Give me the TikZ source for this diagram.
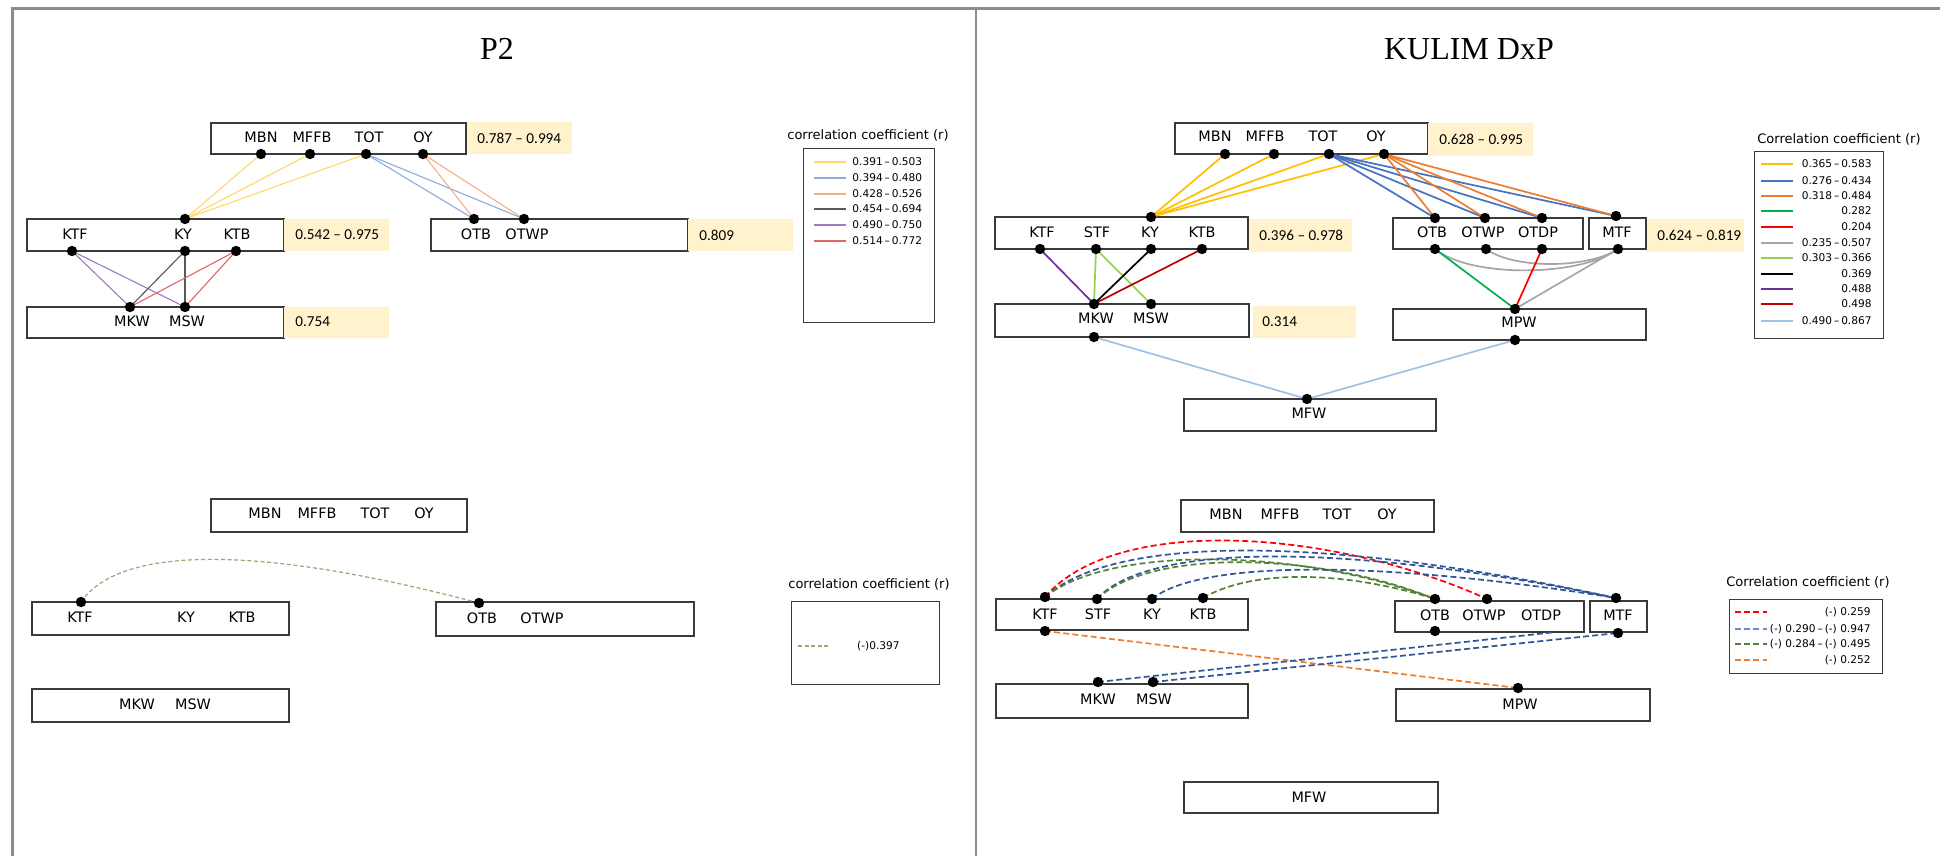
\documentclass[tikz,border=0pt]{standalone}
\usepackage{fontspec}
\setmainfont{DejaVu Sans}
\newfontfamily\calfont{Carlito}
\newfontfamily\serfont{Liberation Serif}
\definecolor{hlyel}{HTML}{FFF2CC}
\definecolor{frame}{HTML}{8C8C8C}
\definecolor{boxc}{HTML}{3A3A3A}
% P2 colours
\definecolor{pyel}{HTML}{FFD966}
\definecolor{pblu}{HTML}{8FAADC}
\definecolor{pora}{HTML}{F4B183}
\definecolor{pgry}{HTML}{595959}
\definecolor{ppur}{HTML}{9E7CC1}
\definecolor{pred}{HTML}{E06666}
\definecolor{pgrn}{HTML}{93AC74}
% KULIM colours
\definecolor{kyel}{HTML}{FFC000}
\definecolor{kblu}{HTML}{4472C4}
\definecolor{kora}{HTML}{ED7D31}
\definecolor{kgrn}{HTML}{00B050}
\definecolor{kred}{HTML}{FF0000}
\definecolor{kgry}{HTML}{A6A6A6}
\definecolor{klgr}{HTML}{92D050}
\definecolor{kblk}{HTML}{000000}
\definecolor{kpur}{HTML}{7030A0}
\definecolor{kdrd}{HTML}{C00000}
\definecolor{klbl}{HTML}{9DC3E6}
\definecolor{dblu}{HTML}{2F5597}
\definecolor{dgrn}{HTML}{548235}
\newcommand\dash{\hspace{0.18em}\textendash\hspace{0.18em}}
\newcommand\hdash{ \textendash{} }
\newcommand\bx[6][]{%
  \pgfmathsetmacro\bxw{(#5-#3)*0.5}%
  \pgfmathsetmacro\bxh{(#6-#4)*0.5}%
  \node[box,#1,minimum width=\bxw pt,minimum height=\bxh pt] (#2) at ({(#3+#5)/2},{(#4+#6)/2}) {};}
\begin{document}
\begin{tikzpicture}[x=0.5pt,y=-0.5pt,
  box/.style={draw=boxc,line width=0.65pt,fill=white,inner sep=0pt,outer sep=0pt},
  hlbox/.style={box,draw=none,fill=hlyel},
  lbl/.style={font=\fontsize{7.2}{8}\selectfont,inner sep=0pt},
  hltxt/.style={font=\calfont\fontsize{7.6}{9}\selectfont,anchor=west,inner sep=0pt},
  dot/.style={circle,fill=black,minimum size=5.2pt,inner sep=0pt},
  legtitle/.style={font=\fontsize{6.5}{8}\selectfont,inner sep=0pt},
  legtxt/.style={font=\fontsize{5.3}{6}\selectfont,inner sep=0pt},
  legtxtw/.style={legtxt,anchor=west},
  legtxte/.style={legtxt,anchor=east},
  legbox/.style={box,line width=0.5pt},
  pl/.style={line width=0.55pt},
  kl/.style={line width=0.85pt},
  dsh/.style={line width=0.85pt,dash pattern=on 3pt off 1.6pt},
  pdsh/.style={line width=0.6pt,dash pattern=on 2pt off 1.3pt},
  ttl/.style={font=\serfont\fontsize{16}{19}\selectfont,inner sep=0pt}]
\useasboundingbox (0,0) rectangle (1940,856);
\fill[white] (0,0) rectangle (1940,856);
% frame
\draw[frame,line width=1.2pt] (11,8.5) -- (1940,8.5);
\draw[frame,line width=1.2pt] (12.5,8) -- (12.5,856);
\draw[frame,line width=0.9pt] (976,8) -- (976,856);
% titles
\node[ttl] (tp2) at (497,49) {P2};
\node[ttl] (tkd) at (1469,49) {KULIM DxP};

%================ P2 top =================
\bx{pA}{211}{123}{466}{154}
\bx[hlbox]{pAh}{467}{122}{572}{154}
\node[hltxt] (pAt) at (477,138) {0.787\hdash0.994};
\node[lbl] (pA1l) at (261,137) {MBN};
\node[lbl] (pA2l) at (312,137) {MFFB};
\node[lbl] (pA3l) at (369,137) {TOT};
\node[lbl] (pA4l) at (423,137) {OY};
\bx{pB}{27}{219}{284}{251}
\bx[hlbox]{pBh}{284}{219}{389}{251}
\node[hltxt] (pBt) at (295,235) {0.542\hdash0.975};
\node[lbl] (pB1l) at (75,234) {KTF};
\node[lbl] (pB2l) at (183,234) {KY};
\node[lbl] (pB3l) at (237,234) {KTB};
\bx{pC}{27}{307}{284}{338}
\bx[hlbox]{pCh}{284}{307}{389}{338}
\node[hltxt] (pCt) at (295,322) {0.754};
\node[lbl] (pC1l) at (132,321) {MKW};
\node[lbl] (pC2l) at (187,321) {MSW};
\bx{pD}{431}{219}{688}{251}
\bx[hlbox]{pDh}{688}{219}{793}{251}
\node[hltxt] (pDt) at (699,235) {0.809};
\node[lbl] (pD1l) at (476,234) {OTB};
\node[lbl] (pD2l) at (527,234) {OTWP};
% dots
\coordinate (pa1) at (261,154); \coordinate (pa2) at (310,154);
\coordinate (pa3) at (366,154); \coordinate (pa4) at (423,154);
\coordinate (pbT) at (185,219);
\coordinate (pb1) at (72,251); \coordinate (pb2) at (185,251); \coordinate (pb3) at (236,251);
\coordinate (pc1) at (130,307); \coordinate (pc2) at (185,307);
\coordinate (pd1) at (474,219); \coordinate (pd2) at (524,219);
% connectors
\draw[pl,pyel] (pa1) -- (pbT);
\draw[pl,pyel] (pa2) -- (pbT);
\draw[pl,pyel] (pa3) -- (pbT);
\draw[pl,pblu] (pa3) -- (pd1);
\draw[pl,pblu] (pa3) -- (pd2);
\draw[pl,pora] (pa4) -- (pd1);
\draw[pl,pora] (pa4) -- (pd2);
\draw[pl,ppur] (pb1) -- (pc1);
\draw[pl,ppur] (pb1) -- (pc2);
\draw[pl,pgry] (pb2) -- (pc1);
\draw[pl,pgry] (pb2) -- (pc2);
\draw[pl,pred] (pb3) -- (pc1);
\draw[pl,pred] (pb3) -- (pc2);
\foreach \d in {pa1,pa2,pa3,pa4,pbT,pb1,pb2,pb3,pc1,pc2,pd1,pd2} \node[dot] at (\d) {};
% legend
\node[legtitle] (pLt) at (868,135) {correlation coefficient (r)};
\bx[legbox]{pL}{803}{149}{934}{322}
\foreach \c/\t/\y in {pyel/0.391\dash0.503/162, pblu/0.394\dash0.480/178, pora/0.428\dash0.526/194,
   pgry/0.454\dash0.694/209, ppur/0.490\dash0.750/225, pred/0.514\dash0.772/241}{
  \draw[\c,line width=0.7pt] (814,\y) -- (846,\y);
  \node[legtxtw] at (852,\y) {\t};}

%================ P2 bottom =================
\bx{qA}{211}{499}{467}{532}
\node[lbl] (qA1l) at (265,513) {MBN};
\node[lbl] (qA2l) at (317,513) {MFFB};
\node[lbl] (qA3l) at (375,513) {TOT};
\node[lbl] (qA4l) at (424,513) {OY};
\bx{qB}{32}{602}{289}{635}
\node[lbl] (qB1l) at (80,617) {KTF};
\node[lbl] (qB2l) at (186,617) {KY};
\node[lbl] (qB3l) at (242,617) {KTB};
\bx{qD}{436}{602}{694}{636}
\node[lbl] (qD1l) at (482,618) {OTB};
\node[lbl] (qD2l) at (542,618) {OTWP};
\bx{qC}{32}{689}{289}{722}
\node[lbl] (qC1l) at (137,704) {MKW};
\node[lbl] (qC2l) at (193,704) {MSW};
\coordinate (qb1) at (81,602); \coordinate (qd1) at (479,603);
\draw[pdsh,pgrn] (qb1) .. controls (120,545) and (260,545) .. (qd1);
\node[dot] at (qb1) {}; \node[dot] at (qd1) {};
\node[legtitle] (qLt) at (869,584) {correlation coefficient (r)};
\bx[legbox]{qL}{791}{601}{939}{684}
\draw[pdsh,pgrn] (798,646) -- (829,646);
\node[legtxte] (qLx) at (900,646) {(-)0.397};

%================ KULIM top =================
\bx{kA}{1175}{123}{1428}{154}
\bx[hlbox]{kAh}{1428}{123}{1533}{156}
\node[hltxt] (kAt) at (1439,139) {0.628\hdash0.995};
\node[lbl] (kA1l) at (1215,136) {MBN};
\node[lbl] (kA2l) at (1265,136) {MFFB};
\node[lbl] (kA3l) at (1323,136) {TOT};
\node[lbl] (kA4l) at (1376,136) {OY};
\bx{kB}{995}{217}{1248}{249}
\bx[hlbox]{kBh}{1249}{219}{1352}{252}
\node[hltxt] (kBt) at (1259,235) {0.396\hdash0.978};
\node[lbl] (kB1l) at (1042,232) {KTF};
\node[lbl] (kB2l) at (1097,232) {STF};
\node[lbl] (kB3l) at (1150,232) {KY};
\node[lbl] (kB4l) at (1202,232) {KTB};
\bx{kC}{995}{304}{1249}{337}
\bx[hlbox]{kCh}{1253}{306}{1356}{338}
\node[hltxt] (kCt) at (1262,322) {0.314};
\node[lbl] (kC1l) at (1096,318) {MKW};
\node[lbl] (kC2l) at (1151,318) {MSW};
\bx{kD}{1393}{218}{1583}{249}
\bx{kE}{1589}{218}{1646}{249}
\bx[hlbox]{kEh}{1647}{219}{1744}{252}
\node[hltxt] (kEt) at (1657,235) {0.624\hdash0.819};
\node[lbl] (kD1l) at (1432,232) {OTB};
\node[lbl] (kD2l) at (1483,232) {OTWP};
\node[lbl] (kD3l) at (1538,232) {OTDP};
\node[lbl] (kE1l) at (1617,232) {MTF};
\bx{kF}{1393}{309}{1646}{340}
\node[lbl] (kF1l) at (1519,322) {MPW};
\bx{kG}{1184}{399}{1436}{431}
\node[lbl] (kG1l) at (1309,413) {MFW};
% dots
\coordinate (ka1) at (1225,154); \coordinate (ka2) at (1274,154);
\coordinate (ka3) at (1329,154); \coordinate (ka4) at (1384,154);
\coordinate (kbT) at (1151,217);
\coordinate (kb1) at (1040,249); \coordinate (kb2) at (1096,249);
\coordinate (kb3) at (1151,249); \coordinate (kb4) at (1202,249);
\coordinate (kc1) at (1094,304); \coordinate (kc2) at (1151,304); \coordinate (kcB) at (1094,337);
\coordinate (kd1) at (1435,218); \coordinate (kd2) at (1485,218); \coordinate (kd3) at (1542,218);
\coordinate (ke1) at (1616,216);
\coordinate (kd1b) at (1435,249); \coordinate (kd2b) at (1486,249); \coordinate (kd3b) at (1542,249);
\coordinate (ke1b) at (1618,249);
\coordinate (kfT) at (1515,309); \coordinate (kfB) at (1515,340);
\coordinate (kgT) at (1307,399);
% connectors
\foreach \a in {ka1,ka2,ka3,ka4} \draw[kl,kyel] (\a) -- (kbT);
\foreach \b in {kd1,kd2,kd3,ke1} \draw[kl,kblu] (ka3) -- (\b);
\foreach \b in {kd1,kd2,kd3,ke1} \draw[kl,kora] (ka4) -- (\b);
\draw[kl,kpur] (kb1) -- (kc1);
\draw[kl,klgr] (kb2) -- (kc1);
\draw[kl,klgr] (kb2) -- (kc2);
\draw[kl,kblk] (kb3) -- (kc1);
\draw[kl,kdrd] (kb4) -- (kc1);
\draw[kl,kgry] (kd1b) .. controls (1470,278) and (1580,277) .. (ke1b);
\draw[kl,kgry] (kd2b) .. controls (1515,270) and (1590,268) .. (ke1b);
\draw[kl,kgrn] (kd1b) -- (kfT);
\draw[kl,kred] (kd3b) -- (kfT);
\draw[kl,kgry] (ke1b) -- (kfT);
\draw[kl,klbl] (kcB) -- (kgT);
\draw[kl,klbl] (kfB) -- (kgT);
\foreach \d in {ka1,ka2,ka3,ka4,kbT,kb1,kb2,kb3,kb4,kc1,kc2,kcB,kd1,kd2,kd3,ke1,kd1b,kd2b,kd3b,ke1b,kfT,kfB,kgT}
  \node[dot] at (\d) {};
% legend
\node[legtitle] (kLt) at (1839,139) {Correlation coefficient (r)};
\bx[legbox]{kL}{1754}{152}{1883}{338}
\foreach \c/\t/\y in {kyel/0.365\dash0.583/164, kblu/0.276\dash0.434/181, kora/0.318\dash0.484/196,
   kgrn/0.282/211, kred/0.204/227, kgry/0.235\dash0.507/243, klgr/0.303\dash0.366/258,
   kblk/0.369/274, kpur/0.488/289, kdrd/0.498/304, klbl/0.490\dash0.867/321}{
  \draw[\c,line width=0.75pt] (1761,\y) -- (1793,\y);
  \node[legtxte] at (1872,\y) {\t};}

%================ KULIM bottom =================
\bx{mA}{1181}{500}{1434}{532}
\node[lbl] (mA1l) at (1226,514) {MBN};
\node[lbl] (mA2l) at (1280,514) {MFFB};
\node[lbl] (mA3l) at (1337,514) {TOT};
\node[lbl] (mA4l) at (1387,514) {OY};
\bx{mB}{996}{599}{1248}{630}
\node[lbl] (mB1l) at (1045,614) {KTF};
\node[lbl] (mB2l) at (1098,614) {STF};
\node[lbl] (mB3l) at (1152,614) {KY};
\node[lbl] (mB4l) at (1203,614) {KTB};
\bx{mD}{1395}{601}{1584}{632}
\bx{mE}{1590}{601}{1647}{632}
\node[lbl] (mD1l) at (1435,615) {OTB};
\node[lbl] (mD2l) at (1484,615) {OTWP};
\node[lbl] (mD3l) at (1541,615) {OTDP};
\node[lbl] (mE1l) at (1618,615) {MTF};
\bx{mC}{996}{684}{1248}{718}
\node[lbl] (mC1l) at (1098,699) {MKW};
\node[lbl] (mC2l) at (1154,699) {MSW};
\bx{mF}{1396}{689}{1650}{721}
\node[lbl] (mF1l) at (1520,704) {MPW};
\bx{mG}{1184}{782}{1438}{813}
\node[lbl] (mG1l) at (1309,797) {MFW};
% dots
\coordinate (mb1) at (1045,597); \coordinate (mb2) at (1097,599);
\coordinate (mb3) at (1152,599); \coordinate (mb4) at (1203,598);
\coordinate (mb1b) at (1045,631);
\coordinate (md1) at (1435,599); \coordinate (md2) at (1487,599);
\coordinate (me1) at (1616,598);
\coordinate (md1b) at (1435,631); \coordinate (md3b) at (1556,632);
\coordinate (me1b) at (1618,633);
\coordinate (mc1) at (1098,682); \coordinate (mc2) at (1153,682);
\coordinate (mfT) at (1518,688);
% dashed connectors
\draw[dsh,kred] (mb1) .. controls (1115,515) and (1330,528) .. (md2);
\draw[dsh,dblu] (mb1) .. controls (1120,530) and (1350,540) .. (me1);
\draw[dsh,dgrn] (mb1) .. controls (1110,545) and (1300,548) .. (md1);
\draw[dsh,dblu] (mb2) .. controls (1150,540) and (1360,545) .. (me1);
\draw[dsh,dgrn] (mb2) .. controls (1150,548) and (1320,552) .. (md1);
\draw[dsh,dblu] (mb3) .. controls (1200,560) and (1380,560) .. (me1);
\draw[dsh,dgrn] (mb4) .. controls (1260,565) and (1360,575) .. (md1);
\draw[dsh,kora] (mb1b) -- (mfT);
\draw[dsh,dblu] (mc1) -- (md3b);
\draw[dsh,dblu] (mc2) -- (me1b);
\foreach \d in {mb1,mb2,mb3,mb4,mb1b,md1,md2,me1,md1b,me1b,mc1,mc2,mfT}
  \node[dot] at (\d) {};
% legend
\node[legtitle] (mLt) at (1808,582) {Correlation coefficient (r)};
\bx[legbox]{mL}{1729}{599}{1882}{673}
\draw[dsh,kred] (1735,612) -- (1767,612);
\node[legtxte] at (1871,612) {(-) 0.259};
\draw[dsh,kblu!80] (1735,629) -- (1767,629);
\node[legtxte] at (1871,629) {(-) 0.290\dash(-) 0.947};
\draw[dsh,dgrn] (1735,644) -- (1767,644);
\node[legtxte] at (1871,644) {(-) 0.284\dash(-) 0.495};
\draw[dsh,kora] (1735,660) -- (1767,660);
\node[legtxte] at (1871,660) {(-) 0.252};
\end{tikzpicture}
\end{document}
